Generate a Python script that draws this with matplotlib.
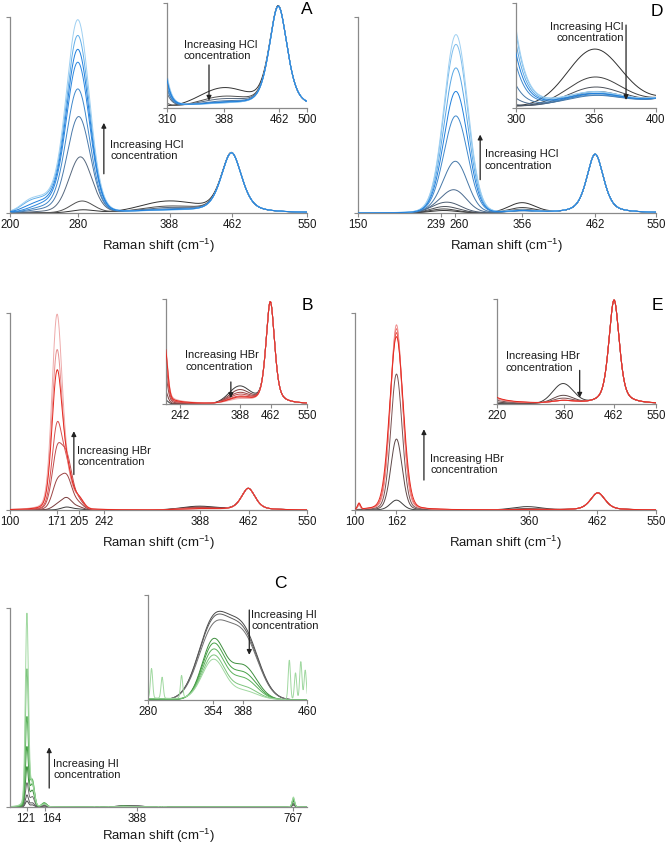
import numpy as np
import matplotlib.pyplot as plt
from matplotlib.transforms import ScaledTranslation

plt.rcParams['font.family'] = ['Liberation Sans', 'DejaVu Sans']
plt.rcParams['mathtext.fontset'] = 'custom'
plt.rcParams['mathtext.rm'] = 'Liberation Sans'

AXIS_GRAY = '#8a8a8a'

# ---- panel A: HCl, first sample (blue) ----
a_colors = ['#333333', '#505050', '#56687e', '#4a7aab', '#3e88cc', '#2a86de', '#1f7fdc', '#62aee8', '#9fd0f2']
a_c280 = [286, 285, 283, 281, 280, 280, 280, 280, 280]
a_h280 = [0.015, 0.060, 0.285, 0.490, 0.630, 0.765, 0.830, 0.900, 0.980]
a_h240 = [0.0, 0.0, 0.005, 0.015, 0.025, 0.040, 0.050, 0.060, 0.065]
a_h222 = [0.0, 0.0, 0.0, 0.0, 0.0, 0.0, 0.010, 0.025, 0.030]
a_h388 = [0.056, 0.030, 0.022, 0.015, 0.012, 0.010, 0.010, 0.008, 0.008]
a_h462 = [0.306, 0.306, 0.306, 0.306, 0.306, 0.306, 0.306, 0.306, 0.306]
a_ticks = [200, 280, 388, 462, 550]
a_inset_ticks = [310, 388, 462, 500]

# ---- panel D: HCl, second sample (blue) ----
d_colors = ['#303030', '#404040', '#4a4f58', '#4c5c70', '#4a6a8e', '#4678a8', '#3f88cc', '#1f7fdc',
            '#58a6e4', '#7dbdec', '#9fd0f2']
d_h239 = [0.012, 0.020, 0.030, 0.045, 0.040, 0.035, 0.030, 0.030, 0.030, 0.030, 0.030]
d_h260 = [0.000, 0.000, 0.004, 0.015, 0.090, 0.240, 0.475, 0.600, 0.720, 0.840, 0.890]
d_h356 = [0.050, 0.025, 0.016, 0.012, 0.010, 0.008, 0.008, 0.009, 0.009, 0.010, 0.010]
d_h462 = [0.300] * 11
d_ticks = [119, 239, 260, 356, 462, 550]
d_ticklabels = ['150', '239', '260', '356', '462', '550']
d_inset_ticks = [300, 356, 400]

# ---- panel B: HBr, first sample (red) ----
b_colors = ['#3a3a3a', '#7a3c3c', '#9c4444', '#c04a4a', '#d85050', '#e5281f', '#e89090', '#eeaaaa']
b_h171 = [0.000, 0.020, 0.120, 0.270, 0.400, 0.670, 0.780, 0.960]
b_h187 = [0.015, 0.060, 0.160, 0.250, 0.200, 0.180, 0.150, 0.150]
b_h205 = [0.004, 0.012, 0.025, 0.035, 0.045, 0.045, 0.045, 0.045]
b_h388 = [0.018, 0.014, 0.011, 0.009, 0.007, 0.006, 0.005, 0.004]
b_h462 = [0.110] * 8
b_ticks = [100, 171, 205, 242, 388, 462, 550]
b_inset_ticks = [242, 388, 462, 550]

# ---- panel E: HBr, second sample (red) ----
e_colors = ['#3c3c3c', '#5e4848', '#7a5252', '#e5281f', '#e84a40', '#ec6a62', '#f09090']
e_h162 = [0.050, 0.360, 0.690, 0.880, 0.900, 0.920, 0.940]
e_w162 = [22, 20, 20, 24, 22, 22, 21]
e_h106 = [0.0, 0.0, 0.0, 0.030, 0.025, 0.020, 0.020]
e_h360 = [0.0165, 0.0065, 0.004, 0.002, 0.002, 0.002, 0.002]
e_h462 = [0.087] * 7
e_ticks = [100, 162, 360, 462, 550]
e_inset_ticks = [220, 360, 462, 550]

# ---- panel C: HI (green) ----
c_colors = ['#4a4a4a', '#5a5a5a', '#707070', '#3f8f3f', '#45a045', '#5cb25c', '#7cc47c', '#a0d8a0']
c_h121 = [0.030, 0.060, 0.120, 0.200, 0.300, 0.450, 0.690, 0.970]
c_h135 = [0.010, 0.020, 0.050, 0.080, 0.110, 0.130, 0.120, 0.100]
c_h164 = [0.004, 0.008, 0.012, 0.018, 0.020, 0.020, 0.016, 0.012]
c_h354 = [0.00545, 0.0053, 0.0049, 0.0042, 0.0039, 0.0035, 0.0031, 0.0028]
c_w354 = [40, 40, 40, 30, 30, 30, 30, 30]
c_h388 = [0.0047, 0.0045, 0.0043, 0.0024, 0.0019, 0.0015, 0.0009, 0.0006]
c_w388 = [40, 40, 40, 35, 35, 35, 35, 35]
c_h767 = [0.010, 0.015, 0.020, 0.030, 0.035, 0.040, 0.045, 0.050]
c_spike_x = [284, 296, 318, 440, 447, 453, 458]
c_spike_h = [0.0021, 0.0015, 0.0016, 0.0028, 0.0019, 0.0027, 0.0021]
c_ticks = [121, 164, 388, 767]
c_inset_ticks = [280, 354, 388, 460]


def pv(x, c, h, w, eta):
    g = np.exp(-4 * np.log(2) * ((x - c) / w) ** 2)
    l = 1 / (1 + 4 * ((x - c) / w) ** 2)
    return h * ((1 - eta) * g + eta * l)


def spectra(x, bands, n):
    out = []
    for i in range(n):
        y = np.zeros_like(x)
        for cen, hts, w, eta in bands:
            c = cen[i] if np.ndim(cen) else cen
            ww = w[i] if np.ndim(w) else w
            y += pv(x, c, hts[i], ww, eta)
        out.append(y)
    return out


def px_axes(fig, x0, y0, x1, y1):
    W, H = 666, 847
    return fig.add_axes([x0 / W, 1 - y1 / H, (x1 - x0) / W, (y1 - y0) / H])


def style(ax, xlim, ytop, ticks, labels=None, fs=8.3):
    ax.set_xlim(*xlim)
    ax.set_ylim(0, ytop)
    ax.set_xticks(ticks)
    ax.set_xticklabels(labels if labels else [str(t) for t in ticks])
    ax.set_yticks([0, ytop])
    ax.set_yticklabels([])
    for s in ['top', 'right']:
        ax.spines[s].set_visible(False)
    for s in ['left', 'bottom']:
        ax.spines[s].set_color(AXIS_GRAY)
        ax.spines[s].set_linewidth(0.9)
    ax.tick_params(color=AXIS_GRAY, labelcolor='#1a1a1a', length=3, width=0.8,
                   labelsize=fs, pad=1.5)
    ax.patch.set_alpha(0)


def nudge(fig, ax, idx, dx_px):
    lab = ax.get_xticklabels()[idx]
    lab.set_transform(lab.get_transform() + ScaledTranslation(dx_px / 100, 0, fig.dpi_scale_trans))


def draw(ax, x, ys, colors, top=None):
    for i, (y, col) in enumerate(zip(ys, colors)):
        z = 3 if i == top else 2
        ax.plot(x, y, color=col, lw=0.7, zorder=z)


def note(ax, text, tx, ty, ax_x, ay0, ay1, ha='left'):
    ax.annotate('', xy=(ax_x, ay1), xytext=(ax_x, ay0), xycoords='axes fraction',
                arrowprops=dict(arrowstyle='-|>', color='#222222', lw=0.9, mutation_scale=7,
                                shrinkA=0, shrinkB=0))
    ax.text(tx, ty, text, transform=ax.transAxes, fontsize=8, ha=ha, va='center',
            color='#1a1a1a', linespacing=1.15)


def xlabel(ax, ypos):
    ax.set_xlabel('Raman shift (cm$^{-1}$)', fontsize=9.5, color='#1a1a1a')
    ax.xaxis.set_label_coords(0.5, ypos)


fig = plt.figure(figsize=(6.66, 8.47), dpi=100)

# panel A
xa = np.arange(200, 550.25, 0.25)
ya = spectra(xa, [(a_c280, a_h280, 32, 0.1), (242, a_h240, 40, 0.0), (222, a_h222, 25, 0.0),
                  (386, a_h388, 75, 0.0), (461, a_h462, 29, 0.5)], len(a_h280))
ax = px_axes(fig, 10, 17, 307, 213)
draw(ax, xa, ya, a_colors, top=6)
style(ax, (200, 550), 1.0, a_ticks)
xlabel(ax, -0.12)
note(ax, 'Increasing HCl\nconcentration', 0.337, 0.32, 0.316, 0.20, 0.46)
ins = px_axes(fig, 167, 3, 307, 108)
draw(ins, xa, ya, a_colors, top=6)
style(ins, (310, 500), 0.317, a_inset_ticks)
note(ins, 'Increasing HCl\nconcentration', 0.12, 0.55, 0.30, 0.41, 0.07)
fig.text(307 / 666, 1 - 10 / 847, 'A', fontsize=12.5, ha='center', va='center')

# panel D
xd = np.arange(119, 550.25, 0.25)
yd = spectra(xd, [(243, d_h239, 45, 0.0), (261, d_h260, 40, 0.05), (356, d_h356, 45, 0.0),
                  (462, d_h462, 29, 0.5)], len(d_h260))
ax = px_axes(fig, 358, 17, 656, 213)
draw(ax, xd, yd, d_colors, top=7)
style(ax, (119, 550), 1.0, d_ticks, d_ticklabels)
nudge(fig, ax, 1, -5)
nudge(fig, ax, 2, 4)
xlabel(ax, -0.12)
note(ax, 'Increasing HCl\nconcentration', 0.426, 0.27, 0.41, 0.17, 0.40)
ins = px_axes(fig, 516, 3, 656, 108)
draw(ins, xd, yd, d_colors, top=7)
style(ins, (300, 400), 0.094, d_inset_ticks)
note(ins, 'Increasing HCl\nconcentration', 0.77, 0.72, 0.786, 0.79, 0.076, ha='right')
fig.text(657 / 666, 1 - 11 / 847, 'D', fontsize=12.5, ha='center', va='center')

# panel B
xb = np.arange(100, 550.25, 0.25)
yb = spectra(xb, [(171, b_h171, 18, 0.2), (186, b_h187, 20, 0.1), (205, b_h205, 16, 0.0),
                  (386, b_h388, 60, 0.0), (461, b_h462, 25, 0.5)], len(b_h171))
ax = px_axes(fig, 10, 313, 307, 510)
draw(ax, xb, yb, b_colors, top=5)
style(ax, (100, 550), 1.0, b_ticks)
xlabel(ax, -0.12)
note(ax, 'Increasing HBr\nconcentration', 0.227, 0.27, 0.215, 0.18, 0.40)
ins = px_axes(fig, 166, 299, 307, 404)
draw(ins, xb, yb, b_colors, top=5)
style(ins, (208, 550), 0.113, b_inset_ticks)
note(ins, 'Increasing HBr\nconcentration', 0.135, 0.41, 0.46, 0.21, 0.057)
fig.text(307 / 666, 1 - 305 / 847, 'B', fontsize=12.5, ha='center', va='center')

# panel E
xe = np.arange(100, 550.25, 0.25)
ye = spectra(xe, [(162, e_h162, e_w162, 0.15), (106, e_h106, 5, 0.0), (357, e_h360, 50, 0.0),
                  (463, e_h462, 26, 0.5)], len(e_h162))
ax = px_axes(fig, 355, 313, 656, 510)
draw(ax, xe, ye, e_colors, top=3)
style(ax, (100, 550), 1.0, e_ticks)
xlabel(ax, -0.12)
note(ax, 'Increasing HBr\nconcentration', 0.25, 0.23, 0.229, 0.152, 0.41)
ins = px_axes(fig, 497, 299, 656, 404)
draw(ins, xe, ye, e_colors, top=3)
style(ins, (220, 550), 0.088, e_inset_ticks)
note(ins, 'Increasing HBr\nconcentration', 0.055, 0.40, 0.52, 0.32, 0.06)
fig.text(657 / 666, 1 - 306 / 847, 'E', fontsize=12.5, ha='center', va='center')

# panel C
xc = np.arange(80, 800.25, 0.25)
yc = spectra(xc, [(121, c_h121, 9, 0.2), (134, c_h135, 12, 0.0), (163, c_h164, 14, 0.0),
                  (354, c_h354, c_w354, 0.0), (388, c_h388, c_w388, 0.0),
                  (767, c_h767, 7, 0.2)], len(c_h121))
for sx, sh in zip(c_spike_x, c_spike_h):
    yc[-1] = yc[-1] + pv(xc, sx, sh, 3, 0.0)
ax = px_axes(fig, 10, 608, 307, 807)
draw(ax, xc, yc, c_colors)
style(ax, (80, 800), 1.0, c_ticks)
nudge(fig, ax, 0, -1)
nudge(fig, ax, 1, 7)
xlabel(ax, -0.10)
note(ax, 'Increasing HI\nconcentration', 0.146, 0.19, 0.132, 0.095, 0.30)
ins = px_axes(fig, 148, 595, 307, 700)
draw(ins, xc, yc, c_colors)
style(ins, (280, 460), 0.0075, c_inset_ticks)
note(ins, 'Increasing HI\nconcentration', 0.65, 0.754, 0.637, 0.857, 0.43)
fig.text(280 / 666, 1 - 583.5 / 847, 'C', fontsize=12.5, ha='center', va='center')

fig.savefig('out.png', dpi=100)
